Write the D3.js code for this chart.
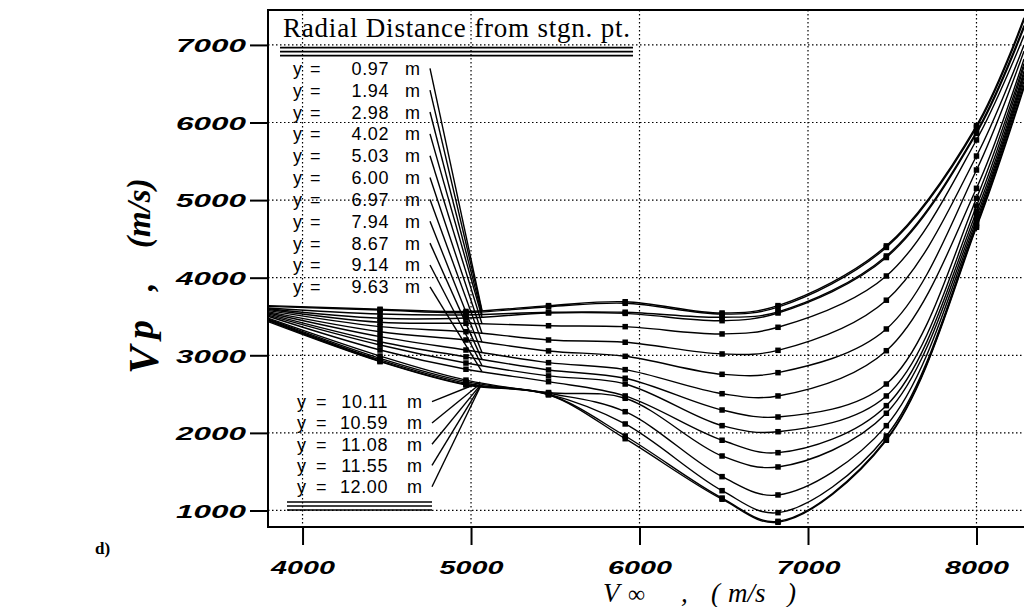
<!DOCTYPE html>
<html lang="en">
<head>
<meta charset="utf-8">
<title>Vp vs V-infinity</title>
<script src="https://d3js.org/d3.v7.min.js"></script>
<style>
  body { margin: 0; background: #fff; }
  svg { display: block; }
</style>
</head>
<body>
<div id="chart"></div>
<script>
// free-stream velocity samples (m/s)
const vInf = [3800, 4460, 4970, 5460, 5915, 6490, 6822, 7465, 8000, 8282];
// samples that carry a square marker
const markerIdx = [1, 2, 3, 4, 5, 6, 7, 8];

// radial distance from stagnation point (m), one per curve
const radialDist = ["0.97", "1.94", "2.98", "4.02", "5.03", "6.00", "6.97", "7.94",
                    "8.67", "9.14", "9.63", "10.11", "10.59", "11.08", "11.55", "12.00"];

// Vp (m/s) for each radial distance
const vp = [
  [3640, 3593, 3565, 3640, 3690, 3545, 3640, 4410, 5960, 7350],
  [3630, 3584, 3549, 3626, 3670, 3530, 3620, 4390, 5936, 7320],
  [3610, 3532, 3520, 3555, 3555, 3490, 3560, 4280, 5880, 7250],
  [3600, 3477, 3480, 3545, 3540, 3446, 3545, 4260, 5860, 7220],
  [3590, 3425, 3412, 3381, 3369, 3275, 3361, 4022, 5775, 7120],
  [3575, 3369, 3304, 3197, 3168, 3017, 3064, 3710, 5568, 7000],
  [3560, 3304, 3197, 3056, 2987, 2755, 2776, 3339, 5388, 6920],
  [3545, 3240, 3068, 2905, 2815, 2505, 2476, 3059, 5152, 6820],
  [3530, 3175, 2980, 2811, 2704, 2295, 2205, 2630, 5023, 6760],
  [3515, 3133, 2900, 2734, 2630, 2093, 2015, 2476, 4924, 6720],
  [3500, 3068, 2820, 2660, 2476, 1905, 1745, 2351, 4850, 6660],
  [3475, 2990, 2680, 2520, 2446, 1702, 1561, 2253, 4790, 6620],
  [3465, 2960, 2660, 2510, 2273, 1436, 1200, 2093, 4740, 6580],
  [3455, 2940, 2640, 2500, 2115, 1255,  972, 1960, 4700, 6530],
  [3445, 2925, 2625, 2495, 1960, 1160,  860, 1918, 4670, 6480],
  [3430, 2918, 2617, 2490, 1925, 1145,  848, 1905, 4650, 6450]
];

const xTicks = [4000, 5000, 6000, 7000, 8000];
const yTicks = [1000, 2000, 3000, 4000, 5000, 6000, 7000];

const W = 1024, H = 607;
const plot = {left: 268, top: 10, right: 1024, bottom: 527};

const svg = d3.select("#chart").append("svg")
    .attr("width", W)
    .attr("height", H);

const x = d3.scaleLinear().domain([3795, 8282]).range([plot.left, plot.right]);
const y = d3.scaleLinear().domain([787, 7450]).range([plot.bottom, plot.top]);

svg.append("clipPath").attr("id", "clip")
  .append("rect")
    .attr("x", plot.left).attr("y", plot.top)
    .attr("width", plot.right - plot.left).attr("height", plot.bottom - plot.top);

// dotted grid
svg.append("g").selectAll("line").data(yTicks).join("line")
    .attr("x1", plot.left).attr("x2", plot.right)
    .attr("y1", d => y(d)).attr("y2", d => y(d))
    .attr("stroke", "#000").attr("stroke-width", 1.2)
    .attr("stroke-dasharray", "1.5,2.5");
svg.append("g").selectAll("line").data(xTicks).join("line")
    .attr("x1", d => x(d)).attr("x2", d => x(d))
    .attr("y1", plot.top).attr("y2", plot.bottom)
    .attr("stroke", "#000").attr("stroke-width", 1.2)
    .attr("stroke-dasharray", "1.5,2.5");

// axes
const yAxis = svg.append("g")
    .attr("transform", `translate(${plot.left},0)`)
    .call(d3.axisLeft(y).tickValues(yTicks).tickSize(18).tickFormat(d3.format("d")));
const xAxis = svg.append("g")
    .attr("transform", `translate(0,${plot.bottom})`)
    .call(d3.axisBottom(x).tickValues(xTicks).tickSize(18).tickFormat(d3.format("d")));

[yAxis, xAxis].forEach(g => {
  g.select(".domain").remove();
  g.selectAll(".tick line").attr("stroke", "#000").attr("stroke-width", 2);
  g.selectAll(".tick text")
      .attr("fill", "#000")
      .style("font-family", "'Liberation Sans', Arial, sans-serif")
      .style("font-weight", "bold")
      .style("font-style", "italic")
      .style("font-size", "19px")
      .attr("lengthAdjust", "spacingAndGlyphs");
});
yAxis.selectAll(".tick text").attr("x", -22).attr("dy", "0.36em").attr("textLength", 70);
xAxis.selectAll(".tick text").attr("y", 47).attr("dy", 0).attr("textLength", 64);

// plot frame
svg.append("rect")
    .attr("x", plot.left).attr("y", plot.top)
    .attr("width", plot.right - plot.left + 20).attr("height", plot.bottom - plot.top)
    .attr("fill", "none").attr("stroke", "#000").attr("stroke-width", 2);

// curves
const line = d3.line()
    .x((d, i) => x(vInf[i]))
    .y(d => y(d))
    .curve(d3.curveCatmullRom.alpha(0.5));

const curves = svg.append("g").attr("clip-path", "url(#clip)");
curves.selectAll("path").data(vp).join("path")
    .attr("d", line)
    .attr("fill", "none")
    .attr("stroke", "#000")
    .attr("stroke-width", 1.4);

const pts = [];
vp.forEach(s => markerIdx.forEach(i => pts.push([vInf[i], s[i]])));
curves.selectAll("rect.mk").data(pts).join("rect")
    .attr("class", "mk")
    .attr("x", d => x(d[0]) - 2.75).attr("y", d => y(d[1]) - 2.75)
    .attr("width", 5.5).attr("height", 5.5)
    .attr("fill", "#000");

// legend
const legend = svg.append("g")
    .style("font-family", "'Liberation Sans', Arial, sans-serif")
    .style("font-size", "18px")
    .attr("fill", "#000");

svg.append("text")
    .attr("x", 283).attr("y", 37)
    .attr("textLength", 347)
    .style("font-family", "'Liberation Serif', 'Times New Roman', serif")
    .style("font-size", "27px")
    .text("Radial Distance from stgn. pt.");

[47.7, 51.7, 55.7].forEach(v => svg.append("line")
    .attr("x1", 280).attr("x2", 633).attr("y1", v).attr("y2", v)
    .attr("stroke", "#000").attr("stroke-width", 1.7));
[502, 506, 510].forEach(v => svg.append("line")
    .attr("x1", 287).attr("x2", 432).attr("y1", v).attr("y2", v)
    .attr("stroke", "#000").attr("stroke-width", 1.7));

const rows = radialDist.map((r, i) => {
  const upper = i < 11;
  const cy = upper ? 68.3 + i * 21.85 : 401.7 + (i - 11) * 21.25;
  return {r, i, upper, cy};
});

rows.forEach(d => {
  const g = legend.append("g");
  g.append("text").attr("x", d.upper ? 293 : 297).attr("y", d.cy + 6.5).text("y");
  g.append("text").attr("x", d.upper ? 310 : 316).attr("y", d.cy + 6.5).text("=");
  g.append("text").attr("x", d.upper ? 389 : 388).attr("y", d.cy + 6.5)
      .attr("text-anchor", "end").style("letter-spacing", "0.6px").text(d.r);
  g.append("text").attr("x", d.upper ? 405 : 407).attr("y", d.cy + 6.5).text("m");

  // leader line to the curve
  const xv = d.upper ? 5065 : 5055;
  const vv = d3.scaleLinear().domain(vInf).range(vp[d.i])(xv);
  g.append("line")
      .attr("x1", d.upper ? 430 : 432).attr("y1", d.cy)
      .attr("x2", x(xv)).attr("y2", y(vv))
      .attr("stroke", "#000").attr("stroke-width", 1.4);
});

// axis titles
const titleFont = "'Liberation Serif', 'Times New Roman', serif";
const yTitle = [
  {t: "V", x: 158, y: 374, size: 42},
  {t: "p", x: 153, y: 339, size: 38},
  {t: ",", x: 153, y: 291, size: 34},
  {t: "(m/s)", x: 150, y: 248, size: 33}
];
svg.append("g").selectAll("text").data(yTitle).join("text")
    .attr("transform", d => `translate(${d.x},${d.y}) rotate(-90)`)
    .style("font-family", titleFont)
    .style("font-weight", "bold")
    .style("font-style", "italic")
    .style("font-size", d => d.size + "px")
    .text(d => d.t);

const xTitle = [
  {t: "V", x: 603, size: 27, italic: true},
  {t: "\u221E", x: 628, size: 24, italic: false},
  {t: ",", x: 681, size: 27, italic: true},
  {t: "(", x: 711, size: 27, italic: true},
  {t: "m/s", x: 728, size: 27, italic: true},
  {t: ")", x: 787, size: 27, italic: true}
];
svg.append("g").selectAll("text").data(xTitle).join("text")
    .attr("x", d => d.x).attr("y", 602)
    .style("font-family", titleFont)
    .style("font-style", d => d.italic ? "italic" : "normal")
    .style("font-size", d => d.size + "px")
    .text(d => d.t);

svg.append("text")
    .attr("x", 95).attr("y", 554)
    .style("font-family", titleFont)
    .style("font-weight", "bold")
    .style("font-size", "17px")
    .text("d)");
</script>
</body>
</html>
